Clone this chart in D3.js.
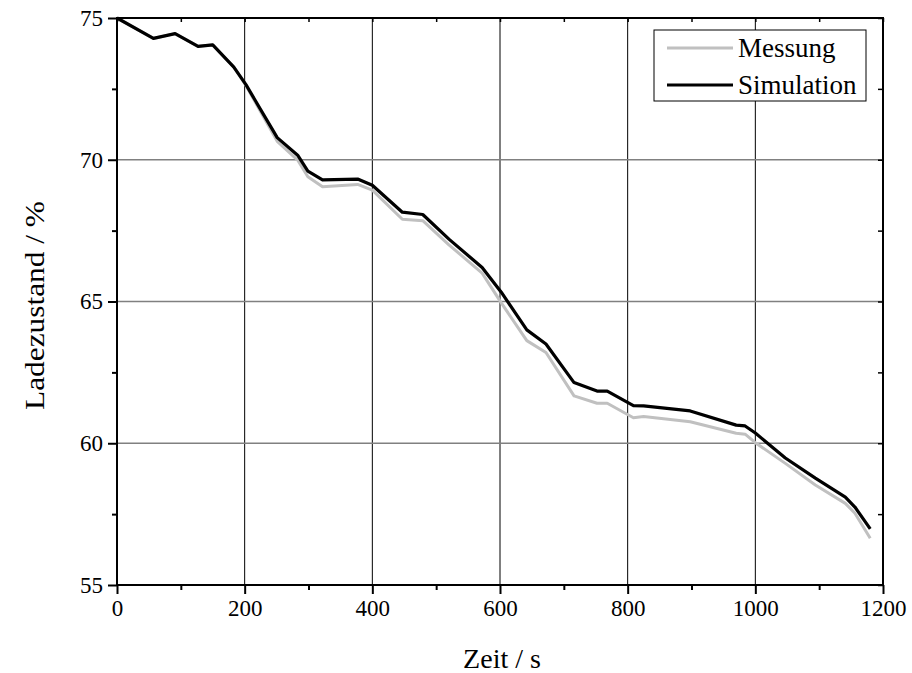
<!DOCTYPE html>
<html><head><meta charset="utf-8">
<script src="https://cdn.jsdelivr.net/npm/d3@7"></script>
<style>body{margin:0;background:#fff}svg{display:block}text{font-family:"Liberation Serif","Times New Roman",serif;fill:#000}</style>
</head><body><svg id="c" width="912" height="673"></svg>
<script>
const time = [0, 57, 91, 127, 150, 183, 202, 251, 283, 299, 322, 377, 400, 447, 479, 520, 572, 602, 642, 672, 716, 752, 768, 809, 825, 898, 970, 984, 1000, 1047, 1094, 1141, 1156, 1180];
const simulation = [75.0, 74.28, 74.45, 74.0, 74.05, 73.27, 72.65, 70.78, 70.16, 69.6, 69.29, 69.32, 69.1, 68.15, 68.07, 67.2, 66.2, 65.33, 64.0, 63.5, 62.14, 61.84, 61.84, 61.33, 61.32, 61.14, 60.64, 60.61, 60.36, 59.48, 58.77, 58.1, 57.75, 56.98];
const messung = [75.0, 74.28, 74.45, 74.0, 74.05, 73.27, 72.62, 70.65, 69.99, 69.4, 69.05, 69.13, 68.93, 67.9, 67.85, 67.0, 66.0, 64.95, 63.62, 63.2, 61.67, 61.41, 61.41, 60.9, 60.94, 60.76, 60.35, 60.32, 60.02, 59.29, 58.53, 57.88, 57.53, 56.65];
const xTicks = [0, 200, 400, 600, 800, 1000, 1200];
const yTicks = [55, 60, 65, 70, 75];
const seriesNames = ["Messung", "Simulation"];

const svg = d3.select("#c");
const L = 117, R = 883, T = 18, B = 585;
const x = d3.scaleLinear().domain([0, 1200]).range([L, R]);
const y = d3.scaleLinear().domain([55, 75]).range([B, T]);

// grid
const g = svg.append("g");
g.selectAll(".vg").data(xTicks.slice(1, -1)).join("line")
  .attr("x1", d => x(d)).attr("x2", d => x(d)).attr("y1", T).attr("y2", B)
  .attr("stroke", "#000").attr("stroke-width", 1);
g.selectAll(".hg").data(yTicks.slice(1, -1)).join("line")
  .attr("x1", L).attr("x2", R).attr("y1", d => y(d)).attr("y2", d => y(d))
  .attr("stroke", "#808080").attr("stroke-width", 1.5);

// lines
const line = (vals) => d3.line().x((d, i) => x(time[i])).y(d => y(d))(vals);
svg.append("path").attr("d", line(messung)).attr("fill", "none").attr("stroke", "#c0c0c0").attr("stroke-width", 3).attr("stroke-linejoin", "round");
svg.append("path").attr("d", line(simulation)).attr("fill", "none").attr("stroke", "#000").attr("stroke-width", 3.2).attr("stroke-linejoin", "round");

// axes
const xMinor = d3.range(0, 1201, 100);
const yMinor = d3.range(55, 75.01, 2.5);
const bottom = d3.axisBottom(x).tickValues(xTicks).tickSize(9).tickPadding(6).tickFormat(d3.format("d"));
const left = d3.axisLeft(y).tickValues(yTicks).tickSize(9).tickPadding(5).tickFormat(d3.format("d"));
const bx = svg.append("g").attr("transform", `translate(0,${B})`).call(bottom);
const ly = svg.append("g").attr("transform", `translate(${L},0)`).call(left);
[bx, ly].forEach(a => {
  a.select(".domain").remove();
  a.selectAll("line").attr("stroke", "#000").attr("stroke-width", 2);
  a.selectAll("text").style("font-size", "23px").style("font-family", '"Liberation Serif",serif');
});
svg.append("g").attr("transform", `translate(0,${B})`).call(d3.axisBottom(x).tickValues(xMinor.filter(v => v % 200)).tickSize(5).tickFormat(""))
  .call(a => { a.select(".domain").remove(); a.selectAll("line").attr("stroke", "#000").attr("stroke-width", 2); });
svg.append("g").attr("transform", `translate(${L},0)`).call(d3.axisLeft(y).tickValues(yMinor.filter(v => v % 5)).tickSize(5).tickFormat(""))
  .call(a => { a.select(".domain").remove(); a.selectAll("line").attr("stroke", "#000").attr("stroke-width", 2); });
// inward ticks top/right
svg.append("g").attr("transform", `translate(0,${T})`).call(d3.axisBottom(x).tickValues(xMinor).tickSize(4).tickFormat(""))
  .call(a => { a.select(".domain").remove(); a.selectAll("line").attr("stroke", "#000").attr("stroke-width", 1.5); });
svg.append("g").attr("transform", `translate(${R},0)`).call(d3.axisLeft(y).tickValues(yMinor).tickSize(5).tickFormat(""))
  .call(a => { a.select(".domain").remove(); a.selectAll("line").attr("stroke", "#000").attr("stroke-width", 1.5); });

// frame
svg.append("rect").attr("x", L).attr("y", T).attr("width", R - L).attr("height", B - T)
  .attr("fill", "none").attr("stroke", "#000").attr("stroke-width", 2);

// titles
svg.append("text").attr("x", (L + R) / 2 + 2).attr("y", 668).attr("text-anchor", "middle").style("font-size", "28px").text("Zeit / s");
svg.append("text").attr("transform", `translate(44,${(T + B) / 2 + 4}) rotate(-90) scale(1.12,1)`).attr("text-anchor", "middle").style("font-size", "28px").text("Ladezustand / %");

// legend
const lg = svg.append("g");
lg.append("rect").attr("x", 654).attr("y", 30).attr("width", 212).attr("height", 71)
  .attr("fill", "#fff").attr("stroke", "#000").attr("stroke-width", 1);
const colors = ["#c0c0c0", "#000"];
seriesNames.forEach((n, i) => {
  const yy = 48 + i * 37;
  lg.append("line").attr("x1", 667).attr("x2", 733).attr("y1", yy).attr("y2", yy).attr("stroke", colors[i]).attr("stroke-width", 3);
  lg.append("text").attr("x", 738).attr("y", yy + 9).style("font-size", "27px").text(n);
});
</script></body></html>
